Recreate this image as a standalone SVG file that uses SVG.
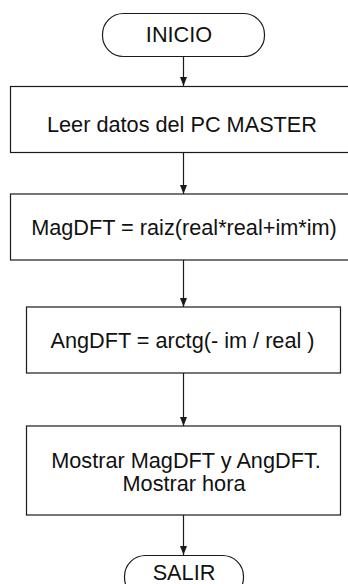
<svg xmlns="http://www.w3.org/2000/svg" width="348" height="584" viewBox="0 0 348 584">
  <style>
    .shape { fill: #ffffff; stroke: #1a1a1a; stroke-width: 1.2; }
    .label { font-family: "Liberation Sans", Arial, sans-serif; font-size: 21.7px; fill: #111111; text-anchor: middle; }
    .flow { stroke: #1a1a1a; stroke-width: 1.2; fill: none; marker-end: url(#arrow); }
  </style>
  <defs>
    <!-- solid triangular head, tip at the end of each flow line -->
    <marker id="arrow" markerWidth="9" markerHeight="7" refX="9" refY="3.5" orient="auto" markerUnits="userSpaceOnUse" viewBox="0 0 9 7">
      <path d="M0,0 L9,3.5 L0,7 Z" fill="#1a1a1a"/>
    </marker>
  </defs>
  <rect width="348" height="584" fill="#ffffff"/>

  <g id="connectors">
    <line class="flow" x1="183.5" y1="57" x2="183.5" y2="86"/>
    <line class="flow" x1="183.5" y1="153" x2="183.5" y2="194"/>
    <line class="flow" x1="183.5" y1="260" x2="183.5" y2="307"/>
    <line class="flow" x1="183.5" y1="373" x2="183.5" y2="426"/>
    <line class="flow" x1="183.5" y1="515" x2="183.5" y2="555"/>
  </g>

  <g id="inicio">
    <rect class="shape" x="102.5" y="13.5" width="162" height="43" rx="21" ry="21"/>
    <text class="label" x="179" y="42">INICIO</text>
  </g>

  <g id="leer-datos">
    <rect class="shape" x="10.5" y="86.5" width="344" height="66"/>
    <text class="label" x="182" y="132">Leer datos del PC MASTER</text>
  </g>

  <g id="magnitud">
    <rect class="shape" x="10.5" y="194" width="344" height="66"/>
    <text class="label" x="184" y="235">MagDFT = raiz(real*real+im*im)</text>
  </g>

  <g id="angulo">
    <rect class="shape" x="26.5" y="307" width="314" height="66"/>
    <text class="label" x="182.5" y="348">AngDFT = arctg(- im / real )</text>
  </g>

  <g id="mostrar">
    <rect class="shape" x="26.5" y="426" width="314" height="89"/>
    <text class="label" x="186" y="468">Mostrar MagDFT y AngDFT.</text>
    <text class="label" x="184" y="491">Mostrar hora</text>
  </g>

  <g id="salir">
    <rect class="shape" x="124.5" y="555.5" width="119" height="43" rx="21" ry="21"/>
    <text class="label" x="184" y="580">SALIR</text>
  </g>
</svg>
